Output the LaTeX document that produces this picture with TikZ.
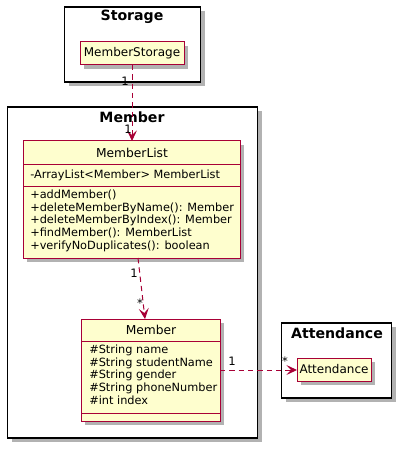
\documentclass[tikz,border=0pt]{standalone}
\usepackage{fontspec}
\setmainfont{DejaVu Sans}
\usetikzlibrary{shadows,arrows.meta}
\definecolor{umlfill}{HTML}{FEFECE}
\definecolor{umlline}{HTML}{A80036}
\tikzset{
  x=0.75pt,y=-0.75pt,
  pkg/.style={draw=black,line width=1.1pt,fill=white,inner sep=0pt,
    drop shadow={shadow xshift=3pt,shadow yshift=-3pt,fill=black!30,opacity=1}},
  cls/.style={draw=umlline,line width=0.75pt,fill=umlfill,inner sep=0pt,
    drop shadow={shadow xshift=3pt,shadow yshift=-3pt,fill=black!30,opacity=1}},
  pkgtitle/.style={font=\bfseries\fontsize{10.6}{12}\selectfont,inner sep=0pt},
  clsname/.style={font=\fontsize{9.2}{11}\selectfont,inner sep=0pt},
  attr/.style={font=\fontsize{8.5}{9.4}\selectfont,inner sep=0pt,anchor=west,align=left},
  mult/.style={font=\fontsize{8.7}{10}\selectfont,inner sep=0pt},
  dep/.style={draw=umlline,line width=0.75pt,dash pattern=on 4pt off 3pt,
    -{Stealth[length=8pt,width=7.5pt,inset=3.5pt]}},
}
\begin{document}
\begin{tikzpicture}
\useasboundingbox (0,0) rectangle (402,449);
% packages
\node[pkg,minimum width=136*0.75pt,minimum height=75*0.75pt] (storagepkg) at (132.5,44.5) {};
\node[pkgtitle] (storagetitle) at (132,17) {Storage};
\node[pkg,minimum width=250*0.75pt,minimum height=331*0.75pt] (memberpkg) at (132.5,272.5) {};
\node[pkgtitle] (membertitle) at (132,117) {Member};
\node[pkg,minimum width=110*0.75pt,minimum height=75*0.75pt] (attpkg) at (336.5,360.5) {};
\node[pkgtitle] (atttitle) at (337,333) {Attendance};
% MemberStorage
\node[cls,minimum width=104*0.75pt,minimum height=23*0.75pt,font=\fontsize{9}{11}\selectfont] (memberstorage) at (132,53.5) {MemberStorage};
% Attendance
\node[cls,minimum width=74*0.75pt,minimum height=23*0.75pt,font=\fontsize{9}{11}\selectfont] (attendance) at (334,369.5) {Attendance};
% MemberList
\node[cls,minimum width=217*0.75pt,minimum height=117*0.75pt] (memberlist) at (131.5,199.5) {};
\draw[umlline,line width=0.75pt] (23,164) -- (240,164) (23,186) -- (240,186);
\node[clsname] (mlname) at (132,153) {MemberList};
\node[attr] (mlattr) at (30,175) {-ArrayList<Member> MemberList};
\node[attr,anchor=north west] (mlmeth) at (30,190) {+addMember()\\+deleteMemberByName(): Member\\+deleteMemberByIndex(): Member\\+findMember(): MemberList\\+verifyNoDuplicates(): boolean};
% Member
\node[cls,minimum width=139*0.75pt,minimum height=102*0.75pt] (member) at (150.5,370) {};
\draw[umlline,line width=0.75pt] (81,341) -- (220,341) (81,413) -- (220,413);
\node[clsname] (mname) at (151,330) {Member};
\node[attr,anchor=north west] (mattr) at (89,345) {\#String name\\\#String studentName\\\#String gender\\\#String phoneNumber\\\#int index};
% connectors
\draw[dep] (132,65) -- (132,141);
\node[mult] (m1a) at (125,81) {1};
\node[mult] (m1b) at (128,129) {1};
\draw[dep] (138,258) -- (145,319);
\node[mult] (m2a) at (134,273) {1};
\node[mult] (m2b) at (140,303) {*};
\draw[dep] (220,370) -- (297,370);
\node[mult] (m3a) at (232,361) {1};
\node[mult] (m3b) at (285,361) {*};
\end{tikzpicture}
\end{document}
